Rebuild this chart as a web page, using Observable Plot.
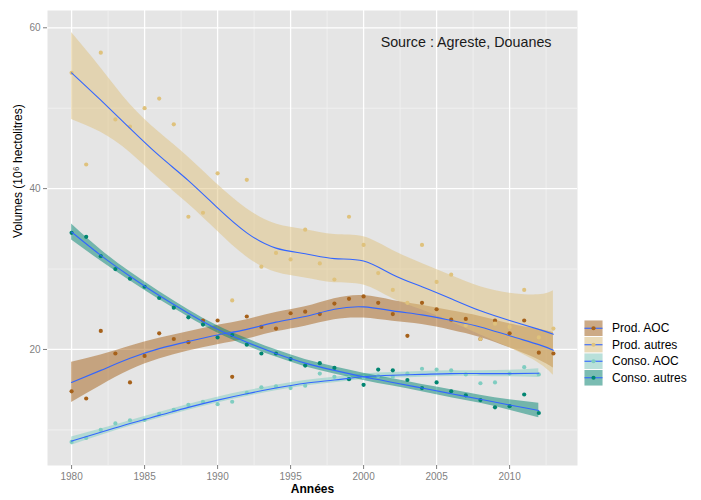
<!DOCTYPE html>
<html><head><meta charset="utf-8">
<script src="https://cdn.jsdelivr.net/npm/d3@7"></script>
<script src="https://cdn.jsdelivr.net/npm/@observablehq/plot@0.6"></script>
<style>
body{margin:0;background:#fff;font-family:"Liberation Sans",Arial,sans-serif;}
#wrap{position:relative;width:701px;height:500px;}
#legend{position:absolute;left:581px;top:317px;}
</style></head><body><div id="wrap"></div>
<script>
// ---- categories / labels ----
const series = ["Prod. AOC", "Prod. autres", "Conso. AOC", "Conso. autres"];
const colors = ["#A6611A", "#DFC27D", "#80CDC1", "#018571"];
const xTicks = [1980, 1985, 1990, 1995, 2000, 2005, 2010];
const xMinor = [1982.5, 1987.5, 1992.5, 1997.5, 2002.5, 2007.5, 2012.5];
const yTicks = [20, 40, 60];
const yMinor = [10, 30, 50];
const xTitle = "Années";
const yTitle = "Volumes (10⁶ hectolitres)";
const sourceNote = "Source : Agreste, Douanes";

// ---- observed values ----
const prodYears = [1980,1981,1982,1983,1984,1985,1986,1987,1988,1989,1990,1991,1992,1993,1994,1995,1996,1997,1998,1999,2000,2001,2002,2003,2004,2005,2006,2007,2008,2009,2010,2011,2012,2013];
const consoYears = [1980,1981,1982,1983,1984,1985,1986,1987,1988,1989,1990,1991,1992,1993,1994,1995,1996,1997,1998,1999,2000,2001,2002,2003,2004,2005,2006,2007,2008,2009,2010,2011,2012];
const prodAOC = [14.8,13.9,22.3,19.5,15.9,19.2,22.0,21.3,20.9,23.6,23.6,16.6,24.1,22.8,22.6,24.5,24.7,24.4,25.7,26.3,26.6,25.8,24.4,21.7,25.8,25.0,23.7,23.8,21.3,23.6,22.0,23.6,19.6,19.5];
const prodAutres = [54.4,43.0,56.9,48.6,47.7,50.0,51.2,48.0,36.5,37.0,41.9,26.1,41.1,30.3,32.0,31.2,34.9,30.7,28.7,36.5,33.0,29.5,27.4,25.8,33.0,28.4,29.3,23.0,21.3,23.2,22.8,27.4,21.5,22.6];
const consoAOC = [8.5,9.0,10.0,10.8,11.2,11.25,12.0,12.5,13.1,13.5,13.2,13.5,14.6,15.3,15.4,15.2,15.5,17.0,16.6,16.5,16.5,16.7,16.6,17.0,17.6,17.5,17.4,16.9,15.8,15.9,17.0,17.8,16.9];
const consoAutres = [34.5,34.0,31.6,30.0,28.8,27.8,26.4,25.2,24.0,23.1,21.5,21.8,20.6,19.5,19.5,18.8,18.0,18.3,17.7,16.3,15.6,17.5,17.4,16.2,15.2,15.9,14.8,14.3,13.7,12.8,12.95,14.4,12.1];

// ---- smoothed curves ----
const fitYearsProd = [1980,1982,1984,1986,1988,1990,1992,1994,1996,1998,2000,2002,2004,2006,2008,2010,2012,2013];
const fitYearsConso = [1980,1982,1984,1986,1988,1990,1992,1994,1996,1998,2000,2002,2004,2006,2008,2010,2012];
const prodAOCFit = [15.9,17.4,18.9,20.1,21.0,21.8,22.5,23.4,24.1,25.0,25.3,24.8,24.3,23.6,22.8,21.7,20.6,19.9];
const prodAOCLo  = [13.4,15.5,17.4,18.8,19.8,20.6,21.3,22.2,22.9,23.7,23.9,23.5,23.1,22.4,21.5,20.2,18.7,17.7];
const prodAOCHi  = [18.4,19.3,20.4,21.4,22.2,23.0,23.7,24.6,25.3,26.3,26.7,26.1,25.5,24.8,24.1,23.2,22.5,22.1];
const prodAutresFit = [54.4,51.0,47.5,44.1,41.0,37.6,34.5,32.6,31.9,31.3,31.0,29.3,27.8,26.3,24.8,23.6,22.5,21.9];
const prodAutresLo  = [48.6,47.0,44.5,41.2,38.1,34.7,31.5,29.6,28.9,28.3,28.0,26.3,24.9,23.4,21.8,20.2,18.3,16.8];
const prodAutresHi  = [59.4,55.0,50.5,47.0,43.9,40.5,37.5,35.6,34.9,34.3,34.0,32.3,30.7,29.2,27.8,27.0,26.8,27.3];
const consoAOCFit = [8.6,9.7,10.8,11.8,12.8,13.7,14.5,15.2,15.8,16.2,16.6,16.8,16.9,17.0,17.0,17.0,17.05];
const consoAOCLo  = [8.1,9.3,10.45,11.45,12.45,13.35,14.15,14.85,15.45,15.85,16.25,16.45,16.55,16.65,16.65,16.6,16.5];
const consoAOCHi  = [9.1,10.1,11.15,12.15,13.15,14.05,14.85,15.55,16.15,16.55,16.95,17.15,17.25,17.35,17.35,17.4,17.6];
const consoAutresFit = [34.6,31.7,29.1,26.7,24.5,22.5,20.9,19.5,18.3,17.4,16.6,15.9,15.2,14.5,13.8,13.1,12.4];
const consoAutresLo  = [33.6,31.0,28.55,26.2,24.05,22.05,20.45,19.05,17.85,16.95,16.15,15.45,14.75,14.0,13.3,12.45,11.5];
const consoAutresHi  = [35.6,32.4,29.65,27.2,24.95,22.95,21.35,19.95,18.75,17.85,17.05,16.35,15.65,15.0,14.3,13.75,13.3];

// ---- tables ----
const pointSets = [[prodYears, prodAOC], [prodYears, prodAutres], [consoYears, consoAOC], [consoYears, consoAutres]];
const points = pointSets.flatMap(([ys, vs], i) => vs.map((v, j) => ({year: ys[j], value: v, series: series[i]})));
const bandSets = [
  [fitYearsProd, prodAOCFit, prodAOCLo, prodAOCHi],
  [fitYearsProd, prodAutresFit, prodAutresLo, prodAutresHi],
  [fitYearsConso, consoAOCFit, consoAOCLo, consoAOCHi],
  [fitYearsConso, consoAutresFit, consoAutresLo, consoAutresHi]
];
const bands = bandSets.flatMap(([ys, f, lo, hi], i) => ys.map((y, j) => ({year: y, fit: f[j], lo: lo[j], hi: hi[j], series: series[i]})));

const plot = Plot.plot({
  width: 701, height: 500,
  marginLeft: 47, marginRight: 124, marginTop: 10, marginBottom: 35,
  style: {fontFamily: "'Liberation Sans', Arial, sans-serif", fontSize: "10px", color: "#7f7f7f", background: "transparent"},
  x: {domain: [1978.35, 2014.65]},
  y: {domain: [5.57, 62.15]},
  color: {domain: series, range: colors},
  marks: [
    Plot.frame({fill: "#E5E5E5", stroke: "none"}),
    Plot.ruleX(xMinor, {stroke: "#F2F2F2", strokeWidth: 0.8}),
    Plot.ruleY(yMinor, {stroke: "#F2F2F2", strokeWidth: 0.8}),
    Plot.ruleX(xTicks, {stroke: "#ffffff", strokeWidth: 1.3}),
    Plot.ruleY(yTicks, {stroke: "#ffffff", strokeWidth: 1.3}),
    Plot.areaY(bands, {x: "year", y1: "lo", y2: "hi", z: "series", fill: "series", fillOpacity: 0.5, curve: "natural"}),
    Plot.dot(points, {x: "year", y: "value", fill: "series", r: 2.1}),
    Plot.line(bands, {x: "year", y: "fit", z: "series", stroke: "#3366FF", strokeWidth: 1.1, curve: "natural"}),
    Plot.axisX({ticks: xTicks, tickFormat: d => String(d), tickSize: 4, tickPadding: 3, label: null}),
    Plot.axisY({ticks: yTicks, tickSize: 4, tickPadding: 3, label: null}),
    Plot.text([xTitle], {text: d => d, frameAnchor: "bottom", dy: 27, fontWeight: "bold", fontSize: 12, fill: "black"}),
    Plot.text([yTitle], {text: d => d, frameAnchor: "left", dx: -29, rotate: -90, fontSize: 12, fill: "black"}),
    Plot.text([sourceNote], {text: d => d, frameAnchor: "top-right", dx: -26, dy: 26, textAnchor: "end", fontSize: 14.3, fill: "#1a1a1a"})
  ]
});
document.getElementById("wrap").appendChild(plot);

// ---- legend ----
const leg = d3.select("#wrap").append("svg").attr("id", "legend").attr("width", 121).attr("height", 72)
  .style("font-family", "'Liberation Sans', Arial, sans-serif");
const rowH = 16.5;
series.forEach((s, i) => {
  const g = leg.append("g").attr("transform", `translate(3,${3 + i * rowH})`);
  g.append("rect").attr("width", 19).attr("height", rowH).attr("fill", "#F2F2F2").attr("stroke", "white").attr("stroke-width", 0.6);
  g.append("rect").attr("x", 0.5).attr("y", 0.5).attr("width", 18).attr("height", rowH - 1).attr("fill", colors[i]).attr("fill-opacity", 0.5);
  g.append("line").attr("x1", 0.5).attr("x2", 18.5).attr("y1", rowH / 2).attr("y2", rowH / 2).attr("stroke", "#3366FF").attr("stroke-width", 1.1);
  g.append("circle").attr("cx", 9.5).attr("cy", rowH / 2).attr("r", 2.1).attr("fill", colors[i]);
  g.append("text").attr("x", 28).attr("y", rowH / 2).attr("dy", "0.35em").attr("font-size", 12).attr("fill", "black").text(s);
});
</script>
</body></html>
